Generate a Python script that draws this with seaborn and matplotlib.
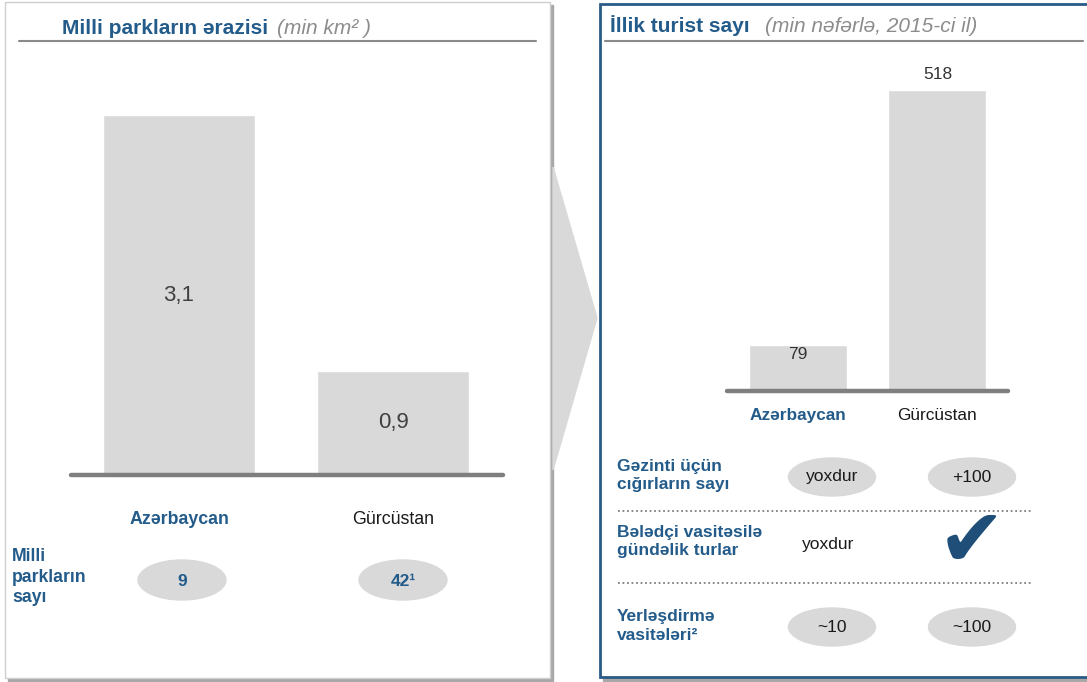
import matplotlib
matplotlib.use("Agg")
import matplotlib.pyplot as plt
import seaborn as sns
from matplotlib.patches import Rectangle, Ellipse, Polygon

# data
countries = ["Azərbaycan", "Gürcüstan"]
park_area = [3.1, 0.9]            # min km²
park_count = ["9", "42¹"]
tourists = [79, 518]              # min nəfər, 2015
row_labels = ["Gəzinti üçün\ncığırların sayı",
              "Bələdçi vasitəsilə\ngündəlik turlar",
              "Yerləşdirmə\nvasitələri²"]
row_az = ["yoxdur", "yoxdur", "~10"]
row_ge = ["+100", "✔", "~100"]
row_oval = [True, False, True]

sns.set_theme(style="white")
plt.rcParams["font.family"] = ["Liberation Sans", "DejaVu Sans"]

BLUE = "#235b8a"
GREY = "#d9d9d9"
W, H = 1087, 682

fig = plt.figure(figsize=(W / 100, H / 100), dpi=100)
bg = fig.add_axes([0, 0, 1, 1])
bg.set_xlim(0, W)
bg.set_ylim(H, 0)
bg.axis("off")


def frac(x0, y0, x1, y1):
    return [x0 / W, 1 - y1 / H, (x1 - x0) / W, (y1 - y0) / H]


# ---- panels ----
bg.add_patch(Rectangle((8, 5), 545, 676, color="#a8a8a8", zorder=0))
bg.add_patch(Rectangle((5, 2), 545, 676, facecolor="white", edgecolor="#cfcfcf", lw=1, zorder=1))
bg.add_patch(Polygon([(553, 167), (597, 318), (553, 470)], closed=True, color=GREY, zorder=1))
bg.add_patch(Rectangle((603, 7), 490, 674, color="#a8a8a8", zorder=0))
bg.add_patch(Rectangle((600, 4), 490, 673, facecolor="white", edgecolor="#2a5b86", lw=2, zorder=1))

# titles
bg.text(62, 28, "Milli parkların ərazisi", color=BLUE, fontsize=15, weight="bold", va="center")
bg.text(277, 28, "(min km² )", color="#8c8c8c", fontsize=15, style="italic", va="center")
bg.plot([19, 536], [41, 41], color="#8a8a8a", lw=1.5)
bg.text(610, 26, "İllik turist sayı", color=BLUE, fontsize=15, weight="bold", va="center")
bg.text(765, 26, "(min nəfərlə, 2015-ci il)", color="#8c8c8c", fontsize=15, style="italic", va="center")
bg.plot([605, 1083], [41, 41], color="#8a8a8a", lw=1.5)

# ---- left bars ----
axL = fig.add_axes(frac(71, 100, 503, 475))
sns.barplot(x=countries, y=park_area, color=GREY, saturation=1, width=0.71, ax=axL)
axL.set_xlim(-0.505, 1.514)
axL.set_ylim(0, 3.23)
axL.axhline(0, color="#7f7f7f", lw=3.2, clip_on=False)
for i, v in enumerate(park_area):
    axL.text(i, v / 2, f"{v:.1f}".replace(".", ","), ha="center", va="center",
             fontsize=16, color="#404040")
axL.tick_params(axis="x", length=0, pad=26, labelsize=12.8)
axL.set_yticks([])
sns.despine(ax=axL, left=True, bottom=True)
labs = axL.get_xticklabels()
labs[0].set_color(BLUE); labs[0].set_fontweight("bold")
labs[1].set_color("#1a1a1a")

bg.text(12, 577, "Milli\nparkların\nsayı", color=BLUE, fontsize=12.7, weight="bold",
        va="center", linespacing=1.3)
for cx, t in zip([182, 403], park_count):
    bg.add_patch(Ellipse((cx, 580), 88, 40, color=GREY, zorder=2))
    bg.text(cx, 581, t, ha="center", va="center", color=BLUE, fontsize=12.5, weight="bold", zorder=3)

# ---- right bars ----
axR = fig.add_axes(frac(727, 60, 1008, 391))
sns.barplot(x=countries, y=tourists, color=GREY, saturation=1, width=0.70, ax=axR)
axR.set_xlim(-0.504, 1.504)
axR.set_ylim(0, 570)
axR.axhline(0, color="#7f7f7f", lw=3.2, clip_on=False)
for i, v in enumerate(tourists):
    if v > 200:
        axR.annotate(str(v), (i, v), xytext=(0, 6), textcoords="offset points",
                     ha="center", va="bottom", fontsize=12.5, color="#333333")
    else:
        axR.annotate(str(v), (i, v), xytext=(0, -1), textcoords="offset points",
                     ha="center", va="top", fontsize=12.5, color="#333333")
axR.tick_params(axis="x", length=0, pad=12, labelsize=12.4)
axR.set_yticks([])
sns.despine(ax=axR, left=True, bottom=True)
labs = axR.get_xticklabels()
labs[0].set_color(BLUE); labs[0].set_fontweight("bold")
labs[1].set_color("#1a1a1a")

# ---- comparison rows ----
row_y = [477, 542, 627]
for k, (lab, a, g, oval) in enumerate(zip(row_labels, row_az, row_ge, row_oval)):
    y = row_y[k]
    bg.text(617, y - 1, lab, color=BLUE, fontsize=12.5, weight="bold", va="center", linespacing=1.25)
    for cx, t in zip([832, 972], [a, g]):
        if oval:
            bg.add_patch(Ellipse((cx, y), 87, 38, color=GREY, zorder=2))
        if t == "✔":
            bg.text(cx - 1, y + 2, t, ha="center", va="center", color="#1f4e79", fontsize=58,
                    family="DejaVu Sans", zorder=3)
        else:
            bg.text(cx - (4 if not oval else 0), y + (3 if not oval else 0), t, ha="center",
                    va="center", color="#1a1a1a", fontsize=12.5, zorder=3)
for yl in [511, 583]:
    bg.plot([618, 1033], [yl, yl], color="#7f7f7f", lw=1.3, ls=(0, (1, 1.5)))

fig.savefig("out.png", dpi=100)
